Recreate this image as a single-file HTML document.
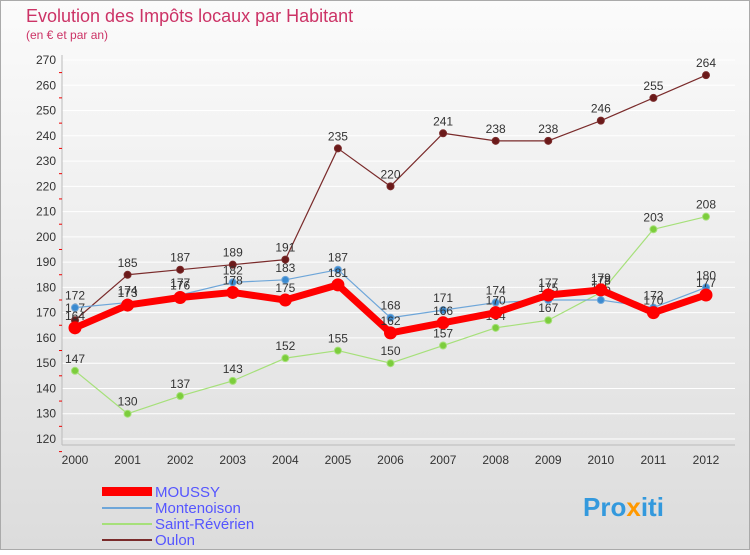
<!DOCTYPE html>
<html><head><meta charset="utf-8"><style>
body{margin:0;background:#fff;}
svg text{font-family:"Liberation Sans",sans-serif;}
</style></head><body>
<svg id="c" width="750" height="550" xmlns="http://www.w3.org/2000/svg">
<defs>
<linearGradient id="bg" x1="0" y1="0" x2="0" y2="1"><stop offset="0" stop-color="#fbfbfb"/><stop offset="1" stop-color="#dcdcdc"/></linearGradient>
</defs>
<rect x="0.5" y="0.5" width="749" height="549" fill="url(#bg)" stroke="#aaa"/>
<text x="26" y="22" font-size="18" fill="#cc3366">Evolution des Impôts locaux par Habitant</text>
<text x="26" y="39" font-size="12" fill="#cc3366">(en € et par an)</text>
<g id="grid"></g><g id="axes"></g><g id="series"></g>
<g>
<rect x="102" y="487" width="50" height="9" fill="#ff0000"/>
<text x="155" y="497" font-size="15" fill="#5555ff">MOUSSY</text>
<rect x="102" y="507" width="50" height="2" fill="#6ea6d9"/>
<text x="155" y="513" font-size="15" fill="#5555ff">Montenoison</text>
<rect x="102" y="523" width="50" height="2" fill="#a6e07a"/>
<text x="155" y="529" font-size="15" fill="#5555ff">Saint-Révérien</text>
<rect x="102" y="539" width="50" height="2" fill="#7a2b2b"/>
<text x="155" y="545" font-size="15" fill="#5555ff">Oulon</text>
</g>
<text x="583" y="516" font-size="26" font-weight="bold" fill="#3399dd">Pro<tspan fill="#ff9900">x</tspan>iti</text>
</svg>
<script>
const years=[2000,2001,2002,2003,2004,2005,2006,2007,2008,2009,2010,2011,2012];
const yTicks=[120,130,140,150,160,170,180,190,200,210,220,230,240,250,260,270];
const moussy=[164,173,176,178,175,181,162,166,170,177,179,170,177];
const montenoison=[172,174,177,182,183,187,168,171,174,175,175,172,180];
const saintReverien=[147,130,137,143,152,155,150,157,164,167,178,203,208];
const oulon=[167,185,187,189,191,235,220,241,238,238,246,255,264];
const NS="http://www.w3.org/2000/svg";
const X=i=>75+i*(706-75)/12;
const Y=v=>439-(v-120)*(439-60)/150;
function mk(t,a,p){const e=document.createElementNS(NS,t);for(const k in a)e.setAttribute(k,a[k]);p.appendChild(e);return e;}
const grid=document.getElementById('grid'),axes=document.getElementById('axes'),ser=document.getElementById('series');
mk('line',{x1:62,y1:55,x2:62,y2:445,stroke:'#bbb'},axes);
mk('line',{x1:62,y1:445,x2:735,y2:445,stroke:'#bbb'},axes);
yTicks.forEach(v=>{
 const g=mk('line',{x1:62,x2:735,y1:Y(v),y2:Y(v),stroke:'#fff','stroke-width':1},grid);
 
 const t=mk('text',{x:56,y:Y(v)+4,'font-size':12,'text-anchor':'end',fill:'#333'},axes);
 t.textContent=v;
 mk('line',{x1:59,x2:62,y1:Y(v)+12.6,y2:Y(v)+12.6,stroke:'#e00'},axes);
});
years.forEach((y,i)=>{
 const t=mk('text',{x:X(i),y:464,'font-size':12,'text-anchor':'middle',fill:'#333'},axes);
 t.textContent=y;
});
function draw(arr,name,color,w,r,dot,labOff){
 const g=mk('g',{},ser);
 mk('polyline',{points:arr.map((v,i)=>X(i)+','+Y(v)).join(' '),fill:'none',stroke:color,'stroke-width':w,'stroke-linejoin':'round'},g);
 arr.forEach((v,i)=>{
  const c=mk('circle',{cx:X(i),cy:Y(v),r:r,fill:dot,stroke:color,'stroke-width':1},g);
  
  const t=mk('text',{x:X(i),y:Y(v)+labOff,'font-size':12,'text-anchor':'middle',fill:'#333'},g);
  t.textContent=v;
 });
}
draw(oulon,'oulon','#7a2b2b',1.2,3.5,'#6b1a1a',-8);
draw(saintReverien,'saint-reverien','#a6e07a',1.2,3.5,'#7ccd3c',-8);
draw(montenoison,'montenoison','#6ea6d9',1.2,3.5,'#3a8ad0',-8);
draw(moussy,'moussy','#ff0000',7,6,'#ff0000',-8);
</script>
</body></html>
